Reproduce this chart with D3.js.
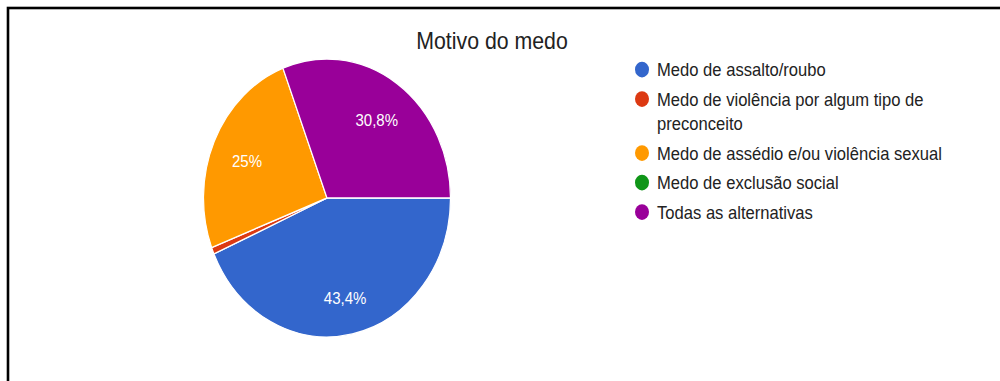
<!DOCTYPE html>
<html>
<head>
<meta charset="utf-8">
<script src="https://cdn.jsdelivr.net/npm/d3@7"></script>
<style>
  html, body { margin: 0; padding: 0; background: #fff; }
  svg { display: block; }
</style>
</head>
<body>
<svg id="chart" width="1000" height="381"></svg>
<script>
// Answers to "Motivo do medo" (percent of respondents)
const title = "Motivo do medo";
const categories = [
  "Medo de assalto/roubo",
  "Medo de violência por algum tipo de preconceito",
  "Medo de assédio e/ou violência sexual",
  "Medo de exclusão social",
  "Todas as alternativas"
];
const values = [43.4, 0.8, 25, 0, 30.8];
const sliceLabels = ["43,4%", "", "25%", "", "30,8%"];
const colors = ["#3366cc", "#dc3912", "#ff9900", "#109618", "#990099"];

const svg = d3.select("#chart");
const W = 1000, H = 381;
const sy = 1.125;          // vertical stretch of the whole figure
const font = "'Liberation Sans', Arial, sans-serif";

// frame
svg.append("rect")
  .attr("x", 8).attr("y", 8)
  .attr("width", W + 20).attr("height", H + 20)
  .attr("fill", "none")
  .attr("stroke", "#000")
  .attr("stroke-width", 2.6);

// title
svg.append("text")
  .attr("transform", `translate(492,49) scale(1,${sy})`)
  .attr("text-anchor", "middle")
  .attr("font-family", font)
  .attr("font-size", 21.3)
  .attr("fill", "#222")
  .text(title);

// pie
const cx = 327, cy = 198, r = 123.5;
const pie = d3.pie().sort(null).value(d => d)
  .startAngle(Math.PI / 2).endAngle(Math.PI / 2 + 2 * Math.PI);
const arcs = pie(values);
const arc = d3.arc().innerRadius(0).outerRadius(r);
const labelArc = d3.arc().innerRadius(r * 0.71).outerRadius(r * 0.71);

const gPie = svg.append("g")
  .attr("transform", `translate(${cx},${cy}) scale(1,${sy})`);

gPie.selectAll("path.slice")
  .data(arcs.filter(d => d.value > 0))
  .join("path")
  .attr("class", "slice")
  .attr("d", arc)
  .attr("fill", d => colors[d.index])
  .attr("stroke", "#fff")
  .attr("stroke-width", 1.2);

gPie.selectAll("text.pct")
  .data(arcs.filter(d => sliceLabels[d.index]))
  .join("text")
  .attr("class", "pct")
  .attr("transform", d => { const c = labelArc.centroid(d); return `translate(${c[0]},${c[1]})`; })
  .attr("text-anchor", "middle")
  .attr("dy", "0.55em")
  .attr("font-family", font)
  .attr("font-size", 15)
  .attr("fill", "#fff")
  .text(d => sliceLabels[d.index]);

// legend
const lgX = 642, textX = 657, maxW = 300;
const rowGap = 29.5, lineGap = 24.5;
const lgFont = 16.6;
let y = 69.5;
const gLeg = svg.append("g");
categories.forEach((name, i) => {
  gLeg.append("ellipse")
    .attr("cx", lgX).attr("cy", y)
    .attr("rx", 7).attr("ry", 7 * sy)
    .attr("fill", colors[i]);
  // word wrap
  const words = name.split(" ");
  let lines = [], cur = "";
  const probe = gLeg.append("text")
    .attr("font-family", font).attr("font-size", lgFont);
  words.forEach(w => {
    const t = cur ? cur + " " + w : w;
    probe.text(t);
    if (probe.node().getComputedTextLength() > maxW && cur) { lines.push(cur); cur = w; }
    else cur = t;
  });
  lines.push(cur);
  probe.remove();
  lines.forEach((ln, k) => {
    gLeg.append("text")
      .attr("transform", `translate(${textX},${y + k * lineGap}) scale(1,${sy})`)
      .attr("dy", "0.36em")
      .attr("font-family", font)
      .attr("font-size", lgFont)
      .attr("fill", "#222")
      .text(ln);
  });
  y += (lines.length - 1) * lineGap + rowGap;
});
</script>
</body>
</html>
